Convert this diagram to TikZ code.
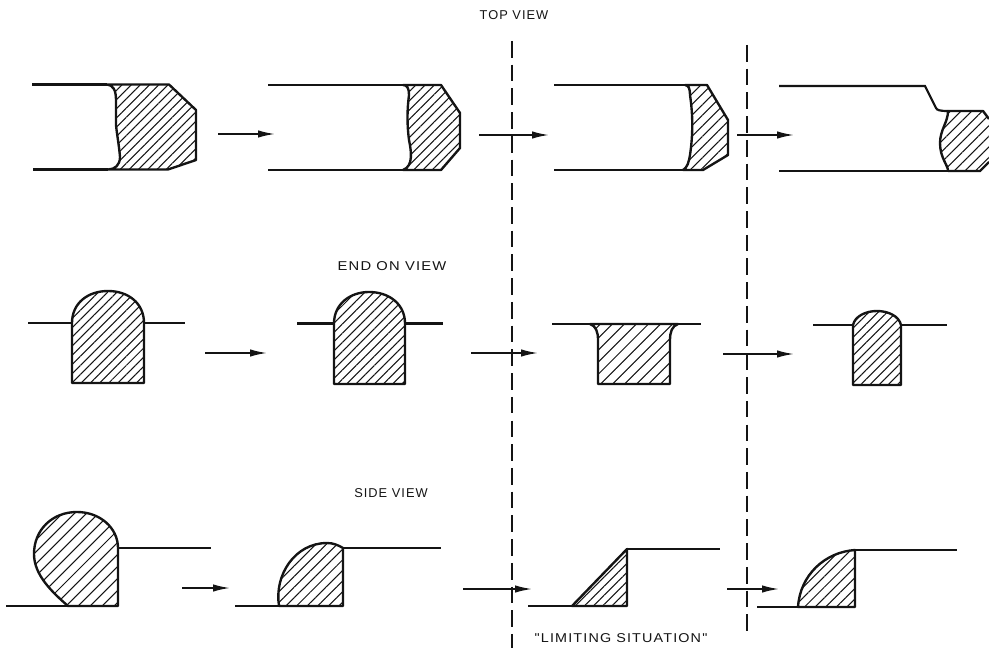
\documentclass[tikz,border=0pt]{standalone}
\usepackage{fontspec}
\setmainfont{Liberation Sans}
\newfontfamily\viewfont[LetterSpace=8,Ligatures=TeXOff]{Liberation Sans}
\usepackage{xcolor}
\usetikzlibrary{arrows.meta, patterns.meta}
\definecolor{ink}{HTML}{141414}

\begin{document}
\begin{tikzpicture}[
    x=0.02cm, y=-0.02cm,
    outline/.style={draw=ink, line width=1.35pt, line join=round},
    edge/.style={draw=ink, line width=1.25pt},
    hatch/.style={pattern={Lines[angle=45, distance=#1, line width=0.6pt]}, pattern color=ink},
    hatch/.default=0.13cm,
    cutline/.style={draw=ink, line width=0.65pt, dash pattern=on 9.5pt off 4pt},
    arrow/.style={-{Latex[length=3.4mm, width=1.5mm]}, draw=ink, line width=0.95pt},
    viewlabel/.style={font=\viewfont\fontsize{7.3}{9}\selectfont, text=ink, inner sep=0pt}
]
    \useasboundingbox (0,0) rectangle (989,648);

    % labels
    \node[viewlabel] (topview) at (514,15) {TOP VIEW};
    \node[viewlabel, xscale=1.15] (endview) at (392,266) {END ON VIEW};
    \node[viewlabel] (sideview) at (391,493) {SIDE VIEW};
    \node[viewlabel, xscale=1.12] (limiting) at (621,638) {"LIMITING SITUATION"};

    % section lines
    \coordinate (cut1top) at (512,41);
    \coordinate (cut1bot) at (512,648);
    \coordinate (cut2top) at (747,45);
    \coordinate (cut2bot) at (747,635);
    \draw[cutline] (cut1top) -- (cut1bot);
    \draw[cutline] (cut2top) -- (cut2bot);

    % top view
    \draw[edge] (32,84.5) -- (107,84.5);
    \draw[edge] (33,169.5) -- (108,169.5);
    \path[outline, hatch] (107,84.5) .. controls (113,85) and (116,90) .. (116,100) -- (116,125)
        .. controls (117,135) and (119,145) .. (120,157) .. controls (120,165) and (115,169.5) .. (108,169.5)
        -- (168,169.5) -- (196,160) -- (196,110) -- (169,84.5) -- cycle;
    \draw[edge] (268,85) -- (403,85);
    \draw[edge] (268,170) -- (403,170);
    \path[outline, hatch] (403,85) .. controls (407,85) and (409,88) .. (409,95)
        .. controls (407,110) and (407,125) .. (409,140) .. controls (411,150) and (414,166) .. (403,170)
        -- (441,170) -- (460,148) -- (460,113) -- (441,85) -- cycle;
    \draw[edge] (554,85) -- (685,85);
    \draw[edge] (554,170) -- (683,170);
    \path[outline, hatch=0.15cm] (685,85) .. controls (689,85) and (690,90) .. (690,95)
        .. controls (693,115) and (693,135) .. (690,155) .. controls (689,162) and (687,168) .. (683,170)
        -- (703,170) -- (728,155) -- (728,120) -- (707,85) -- cycle;

    \draw[edge] (779,86) -- (925,86) -- (936,108) .. controls (937,110) and (939,111) .. (948,111);
    \draw[edge] (779,171) -- (948,171);
    \path[hatch=0.15cm] (948,111) -- (983,111) -- (989,119) -- (989,162) -- (980,171) -- (948,171)
        .. controls (948,165) and (940,158) .. (940,143) .. controls (940,130) and (948,122) .. (948,111) -- cycle;
    \draw[outline] (948,171) .. controls (948,165) and (940,158) .. (940,143) .. controls (940,130) and (948,122) .. (948,111)
        -- (983,111) -- (989,119);
    \draw[edge] (948,171) -- (980,171) -- (989,162);

    % end on view
    \draw[edge] (28,323) -- (72,323);
    \draw[edge] (144,323) -- (185,323);
    \path[outline, hatch] (72,383) -- (72,323) .. controls (72,303) and (88,291) .. (108,291)
        .. controls (128,291) and (144,303) .. (144,323) -- (144,383) -- cycle;
    \draw[edge] (297,323.5) -- (334,323.5);
    \draw[edge] (405,323.5) -- (443,323.5);
    \path[outline, hatch] (334,384) -- (334,323.5) .. controls (334,304) and (350,292) .. (369,292)
        .. controls (389,292) and (405,304) .. (405,323.5) -- (405,384) -- cycle;
    \draw[edge] (552,324) -- (701,324);
    \path[outline, hatch=0.17cm] (590,324) .. controls (596,326) and (598,332) .. (598,340) -- (598,384) -- (670,384) -- (670,340)
        .. controls (670,332) and (672,326) .. (678,324) -- cycle;
    \draw[edge] (813,325) -- (853,325);
    \draw[edge] (901,325) -- (947,325);
    \path[outline, hatch] (853,385) -- (853,325) .. controls (855,316) and (866,311) .. (877,311)
        .. controls (888,311) and (899,316) .. (901,325) -- (901,385) -- cycle;

    % side view
    \draw[edge] (6,606) -- (68,606);
    \draw[edge] (118,548) -- (211,548);
    \path[outline, hatch=0.17cm] (118,606) -- (118,548) .. controls (118,528) and (100,512) .. (77,512)
        .. controls (52,512) and (34,530) .. (34,554) .. controls (34,575) and (52,592) .. (68,606) -- cycle;
    \draw[edge] (235,606) -- (279,606);
    \draw[edge] (343,548) -- (441,548);
    \path[outline, hatch=0.15cm] (343,606) -- (343,548) .. controls (338,545) and (333,543) .. (327,543)
        .. controls (295,543) and (274,575) .. (279,606) -- cycle;
    \draw[edge] (528,606) -- (572,606);
    \draw[edge] (627,549) -- (720,549);
    \path[outline, hatch] (627,606) -- (627,549) -- (572,606) -- cycle;
    \draw[edge] (757,607) -- (798,607);
    \draw[edge] (855,550) -- (957,550);
    \path[outline, hatch=0.15cm] (855,607) -- (855,550) .. controls (825,552) and (800,575) .. (798,607) -- cycle;

    % arrows between the stages
    \foreach \name/\xa/\xb/\ya in {t1/218/275/134, t2/479/549/135, t3/737/794/135,
        e1/205/267/353, e2/471/538/353, e3/723/794/354,
        s1/182/230/588, s2/463/532/589, s3/727/779/589} {
        \coordinate (\name a) at (\xa,\ya);
        \coordinate (\name b) at (\xb,\ya);
        \draw[arrow] (\name a) -- (\name b);
    }
\end{tikzpicture}
\end{document}
